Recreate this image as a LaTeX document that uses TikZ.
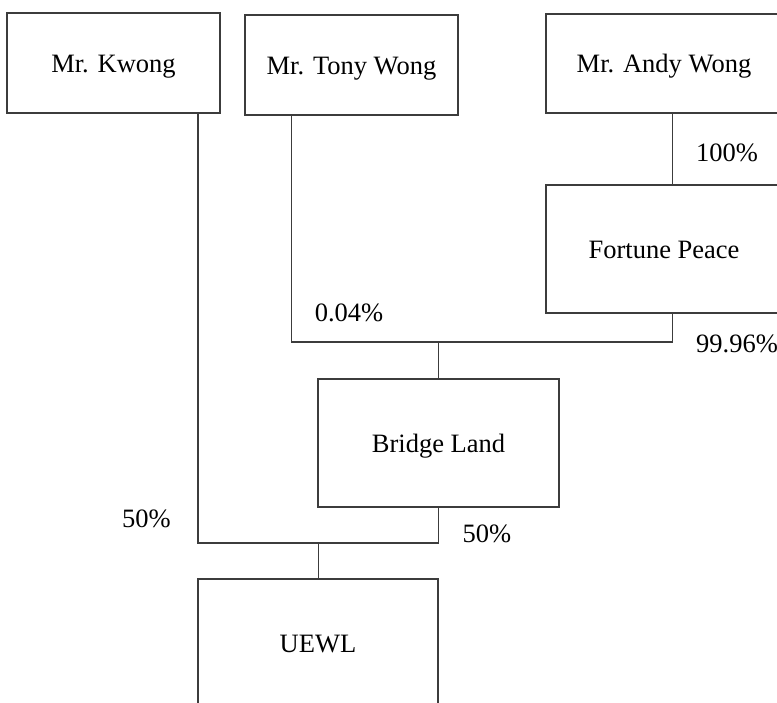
\documentclass[tikz,border=0pt]{standalone}
\usepackage{fontspec}
\setmainfont{Liberation Serif}
\usetikzlibrary{positioning, calc}
\definecolor{linegray}{HTML}{3C3C3C}

\begin{document}
\begin{tikzpicture}[x=1pt, y=-1pt,
    % styles
    txt/.style={inner sep=0pt, text height=18pt, text depth=0pt, font=\fontsize{26.5}{30}\selectfont},
    box/.style={txt, draw=linegray, line width=1.3pt, fill=white},
    owner/.style={box, minimum width=213pt, minimum height=100pt},
    company/.style={box, minimum width=241pt, minimum height=128pt},
    link/.style={draw=linegray, line width=1.3pt},
    pct/.style={txt}
]

% --- frame ---
\useasboundingbox (0,0) rectangle (777,702);
\clip (0,0) rectangle (777,702);

% --- owners ---
\node[owner] (Kwong) at (113.5,63) {Mr. Kwong};
\node[owner] (Tony) at (351.5,65) {Mr. Tony Wong};
\node[owner, minimum width=236pt, minimum height=99pt] (Andy) at (664,63.5) {Mr. Andy Wong};

% --- companies ---
\node[company, minimum width=236pt] (Fortune) at (664,249) {Fortune Peace};
\node[company] (Bridge) at (438.5,443) {Bridge Land};
\node[company, minimum width=240pt] (UEWL) at (318,643) {UEWL};

% --- junctions ---
\coordinate (J1) at (438.5,342);
\coordinate (J2) at (318.5,543);

% --- links ---
\draw[link] ([xshift=8.5pt]Andy.south) -- ([xshift=8.5pt]Fortune.north);
\draw[link] ([xshift=-60pt]Tony.south) |- (J1) -| ([xshift=8.5pt]Fortune.south);
\draw[link] (J1) -- (J1 |- Bridge.north);
\draw[link] ([xshift=0.5pt]Kwong.south -| UEWL.west) |- (J2) -| (Bridge.south);
\draw[link] (J2) -- (J2 |- UEWL.north);

% --- shares ---
\node[pct] (p100) at (727,152) {100\%};
\node[pct] (p004) at (349,312) {0.04\%};
\node[pct, anchor=west] (p9996) at (696,343) {99.96\%};
\node[pct] (p50a) at (146.5,518) {50\%};
\node[pct] (p50b) at (487,533) {50\%};

\end{tikzpicture}
\end{document}
